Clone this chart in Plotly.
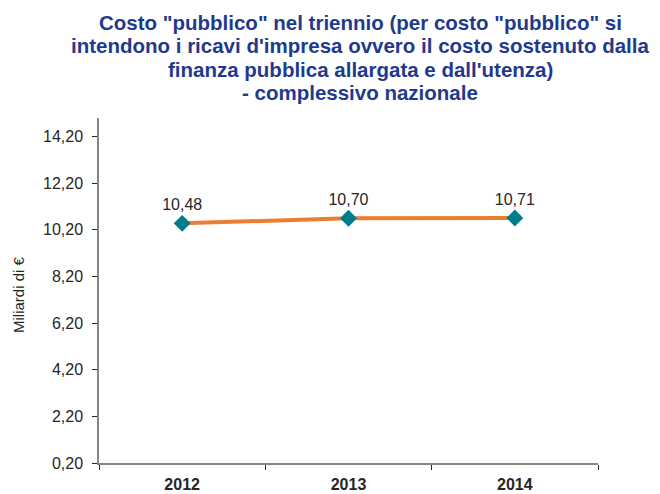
import plotly.graph_objects as go

years = ["2012", "2013", "2014"]
values = [10.48, 10.70, 10.71]
y_ticks = [0.2, 2.2, 4.2, 6.2, 8.2, 10.2, 12.2, 14.2]

title_lines = [
    'Costo "pubblico" nel triennio (per costo "pubblico" si',
    "intendono i ricavi d'impresa ovvero il costo sostenuto dalla",
    "finanza pubblica allargata e dall'utenza)",
    "- complessivo nazionale",
]
title_line_px = [22, 45, 69, 93]

W, H = 660, 494
L, R, T, B = 99, 62, 118, 31
PW, PH = W - L - R, H - T - B

fig = go.Figure()
fig.add_trace(go.Scatter(
    x=years, y=values,
    mode="lines+markers+text",
    line=dict(color="#ED7D31", width=4),
    marker=dict(symbol="diamond", size=13, color="#007D8C"),
    texttemplate="%{y:.2f}",
    textposition="top center",
    textfont=dict(family="Liberation Sans, Arial", size=16, color="#262626"),
    cliponaxis=False,
))

annotations = []
for line, py in zip(title_lines, title_line_px):
    annotations.append(dict(
        text=line, xref="paper", yref="paper",
        x=(360 - L) / PW, y=(H - B - py) / PH,
        xanchor="center", yanchor="middle", showarrow=False,
        font=dict(family="Liberation Sans, Arial", size=20.5, color="#1F3A8C", weight="bold"),
    ))
annotations.append(dict(
    text="Miliardi di €", xref="paper", yref="paper",
    x=(18 - L) / PW, y=(H - B - 295) / PH, textangle=-90,
    xanchor="center", yanchor="middle", showarrow=False,
    font=dict(family="Liberation Sans, Arial", size=15, color="#262626"),
))

fig.update_layout(
    width=W, height=H,
    margin=dict(l=L, r=R, t=T, b=B),
    paper_bgcolor="white", plot_bgcolor="white",
    separators=",.",
    showlegend=False,
    annotations=annotations,
    font=dict(family="Liberation Sans, Arial", color="#262626"),
)
fig.update_xaxes(
    type="category", range=[-0.5, 2.5], automargin=False,
    showline=True, linecolor="#868686", linewidth=1.5,
    ticks="outside", tickson="boundaries", ticklen=5, tickcolor="#262626",
    tickfont=dict(size=16, color="#262626", weight="bold"),
    ticklabelstandoff=6,
    showgrid=False, zeroline=False,
)
fig.update_yaxes(
    range=[0.2, 15.0], automargin=False,
    tickvals=y_ticks, tickformat=".2f",
    showline=True, linecolor="#868686", linewidth=1.5,
    ticks="outside", ticklen=5, tickcolor="#262626",
    tickfont=dict(size=16, color="#262626"),
    ticklabelstandoff=6,
    showgrid=False, zeroline=False,
)

fig.write_html("out.html")
